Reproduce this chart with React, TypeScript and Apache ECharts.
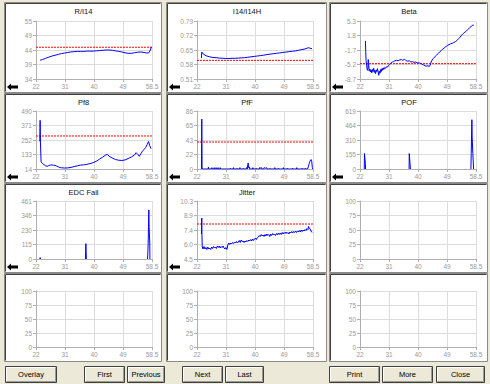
import React, { useEffect, useRef } from "react";
import * as echarts from "echarts";

// ---------- data ----------
const panelTitles = ["R/I14", "I14/I14H", "Beta", "Pf8", "PfF", "POF", "EDC Fail", "Jitter", "", "", "", ""];
const xMin = 22;
const xMax = 58.5;
const xTickLabels = ["22", "31", "40", "49", "58.5"];
const yMins = [34, 0.51, -8.7, 14, 0, 0, 0, 4.5, 0, 0, 0, 0];
const yMaxs = [55, 0.79, 5.3, 490, 86, 619, 461, 10.3, 100, 100, 100, 100];
const yTickLabels = [
  ["34", "39", "44", "49", "55"],
  ["0.51", "0.58", "0.65", "0.72", "0.79"],
  ["-8.7", "-5.2", "-1.7", "1.8", "5.3"],
  ["14", "133", "252", "371", "490"],
  ["0", "22", "43", "65", "86"],
  ["0", "155", "310", "464", "619"],
  ["0", "115", "230", "346", "461"],
  ["4.5", "6.0", "7.4", "8.9", "10.3"],
  ["0", "25", "50", "75", "100"],
  ["0", "25", "50", "75", "100"],
  ["0", "25", "50", "75", "100"],
  ["0", "25", "50", "75", "100"],
];
const thresholds = [45.5, 0.6, -5.0, 285, 40, null, null, 8.0, null, null, null, null];
const buttonLabels = ["Overlay", "First", "Previous", "Next", "Last", "Print", "More", "Close"];

const ri14Data = [
  [23.3, 40.8], [24, 41.0], [25, 41.5], [26, 41.9], [27, 42.3], [28, 42.6], [29, 42.9], [30, 43.2],
  [31, 43.4], [32, 43.6], [33, 43.8], [34, 43.9], [35, 44.0], [36, 44.0], [37, 44.0], [38, 44.1],
  [39, 44.1], [40, 44.1], [41, 44.2], [42, 44.3], [43, 44.4], [44, 44.5], [45, 44.5], [46, 44.4],
  [47, 44.2], [48, 44.0], [49, 43.8], [50, 43.5], [51, 43.3], [52, 43.3], [53, 43.5], [54, 43.7],
  [55, 43.8], [56, 43.6], [56.8, 43.4], [57.5, 43.5], [58, 44.5], [58.3, 45.6],
];
const i14Data = [
  [23.4, 0.611], [23.5, 0.64], [24.0, 0.630], [24.9, 0.622], [26, 0.617], [27, 0.614], [28, 0.613],
  [29, 0.611], [30, 0.610], [31, 0.609], [32, 0.609], [33, 0.610], [34, 0.610], [35, 0.611],
  [36, 0.612], [37, 0.613], [38, 0.615], [39, 0.617], [40, 0.619], [41, 0.621], [42, 0.623],
  [43, 0.625], [44, 0.628], [45, 0.630], [46, 0.632], [47, 0.634], [48, 0.636], [49, 0.638],
  [50, 0.640], [51, 0.642], [52, 0.644], [53, 0.646], [54, 0.649], [55, 0.652], [56, 0.655],
  [57, 0.661], [57.5, 0.659], [58.2, 0.656],
];
const betaData = [
  [23.7, 0.5], [23.8, -2.0], [23.9, -4.2], [24.1, -5.5], [24.3, -6.6], [24.5, -6.2], [24.6, -4.0],
  [24.7, -5.0], [24.9, -6.8], [25.1, -6.3], [25.3, -7.0], [25.5, -6.5], [25.7, -7.2], [25.9, -6.4],
  [26.1, -6.9], [26.3, -6.1], [26.5, -7.1], [26.7, -6.6], [26.9, -7.4], [27.1, -6.5], [27.3, -6.9],
  [27.5, -6.2], [27.7, -7.0], [27.9, -7.8], [28.1, -6.8], [28.3, -7.3], [28.5, -6.4], [28.7, -6.9],
  [28.9, -6.2], [29.1, -6.6], [29.3, -6.0], [29.5, -6.4], [29.8, -5.9], [30.1, -6.1], [30.4, -5.7],
  [30.7, -5.8], [31, -5.4], [31.4, -5.1], [31.8, -4.8], [32.2, -4.6], [32.6, -4.5], [33, -4.3],
  [33.5, -4.2], [34, -4.3], [34.5, -4.1], [35, -4.0], [35.5, -4.2], [36, -3.9], [36.5, -4.3],
  [37, -4.4], [37.5, -4.3], [38, -4.6], [38.5, -4.5], [39, -4.7], [39.5, -4.6], [40, -4.8],
  [40.5, -4.8], [41, -4.9], [41.5, -5.1], [42, -5.3], [42.5, -5.5], [43, -5.6], [43.4, -5.5],
  [43.8, -5.7], [44.1, -5.3], [44.4, -4.6], [44.7, -4.1], [45, -3.8], [45.5, -3.4], [46, -3.0],
  [46.5, -2.6], [47, -2.2], [47.5, -1.9], [48, -1.5], [48.5, -1.2], [49, -0.9], [49.5, -0.6],
  [50, -0.4], [50.5, -0.2], [51, -0.1], [51.5, 0.1], [52, 0.3], [52.5, 0.6], [53, 1.0], [53.5, 1.4],
  [54, 1.9], [54.5, 2.3], [55, 2.6], [55.5, 2.9], [56, 3.3], [56.5, 3.7], [57, 4.0], [57.5, 4.3],
  [57.8, 4.3],
];
const pf8Data = [
  [23.2, 240], [23.3, 413], [23.4, 235], [23.6, 72], [24, 60], [24.5, 50], [25, 40], [25.5, 36],
  [26, 42], [26.5, 46], [27, 48], [27.5, 45], [28, 44], [28.5, 38], [29, 32], [29.5, 26], [30, 24],
  [31, 22], [32, 23], [33, 27], [34, 34], [35, 40], [36, 46], [37, 48], [38, 52], [39, 58], [40, 66],
  [41, 78], [42, 95], [43, 112], [44, 130], [44.5, 134], [45, 118], [46, 104], [47, 92], [48, 86],
  [49, 84], [50, 88], [51, 100], [52, 112], [53, 130], [53.5, 148], [54, 135], [54.5, 118],
  [55, 140], [55.5, 160], [56, 175], [56.5, 190], [57, 215], [57.4, 240], [57.8, 205], [58.2, 181],
];
const pffData = [
  [23.4, 0], [23.5, 74], [23.55, 38], [23.6, 0], [25.5, 0], [25.6, 3], [25.7, 0], [26.6, 0], [26.7, 2],
  [26.8, 0], [27.3, 0], [27.4, 2], [27.5, 0], [27.9, 0], [28.0, 2], [28.1, 0], [28.5, 0], [28.6, 2],
  [28.7, 0], [29.2, 0], [29.3, 2], [29.4, 0], [32.4, 0], [32.5, 1], [32.6, 0], [33.4, 0], [33.5, 2],
  [33.6, 0], [34.5, 0], [34.6, 1], [34.7, 0], [35.4, 0], [35.5, 2], [35.6, 0], [36.5, 0], [36.6, 1],
  [36.7, 0], [37.5, 0], [37.6, 2], [37.8, 0], [38.0, 0], [38.1, 9], [38.2, 2], [38.5, 3], [38.6, 0],
  [39.5, 0], [39.6, 2], [39.7, 0], [40.5, 0], [40.6, 1], [40.7, 0], [41.6, 0], [41.7, 2], [41.8, 1],
  [42.3, 2], [42.4, 0], [43.0, 0], [43.1, 2], [43.5, 1], [43.9, 2], [44.0, 0], [44.8, 0], [44.9, 1],
  [45.0, 0], [46.4, 0], [46.5, 2], [46.6, 0], [47.5, 0], [47.6, 1], [47.7, 0], [49.1, 0], [49.2, 2],
  [49.3, 0], [50.3, 0], [50.4, 1], [50.5, 0], [52.0, 0], [52.1, 1], [52.2, 0], [53.3, 0], [53.4, 2],
  [53.5, 0], [55.0, 0], [55.1, 1], [55.2, 0], [56.0, 0], [56.1, 1], [56.2, 0], [56.8, 0], [57.0, 3],
  [57.3, 8], [57.6, 12], [57.9, 14], [58.1, 11], [58.3, 2], [58.4, 0],
];
const pofData = [
  [23.35, 0], [23.4, 165], [23.5, 165], [23.6, 165], [23.7, 60], [23.75, 0], [23.8, null],
  [37.45, 0], [37.5, 165], [37.6, 165], [37.7, 80], [37.8, 80], [37.85, 0], [37.9, null],
  [56.9, 0], [57.0, 165], [57.1, 165], [57.2, 526], [57.3, 340], [57.4, 340], [57.5, 165], [57.6, 165], [57.7, 165], [57.75, 0],
];
const edcData = [
  [23.2, 0], [23.3, 11], [23.45, 11], [23.5, 0], [23.6, null],
  [37.55, 0], [37.6, 54], [37.7, 122], [37.8, 122], [37.85, 0], [37.9, null],
  [57.1, 0], [57.2, 54], [57.3, 127], [57.4, 127], [57.5, 390], [57.6, 250], [57.7, 250], [57.8, 127], [57.85, 0],
];
const jitterData = [
  [23.4, 7.0], [23.5, 8.6], [23.55, 7.0], [23.65, 5.7], [23.9, 5.5], [24.2, 5.75], [24.5, 5.5],
  [24.8, 5.65], [25.1, 5.45], [25.4, 5.7], [25.7, 5.5], [26.0, 5.6], [26.3, 5.45], [26.6, 5.7],
  [26.9, 5.55], [27.2, 5.75], [27.5, 5.6], [27.8, 5.7], [28.1, 5.55], [28.4, 5.8], [28.7, 5.65],
  [29.0, 5.8], [29.3, 5.6], [29.6, 5.75], [29.9, 5.65], [30.2, 5.8], [30.5, 5.6], [30.8, 5.5],
  [31.1, 5.65], [31.4, 5.45], [31.7, 5.9], [32.0, 6.1], [32.3, 5.95], [32.6, 6.1], [32.9, 6.0],
  [33.2, 6.15], [33.5, 6.05], [33.8, 6.2], [34.1, 6.1], [34.4, 6.25], [34.7, 6.1], [35.0, 6.2],
  [35.3, 6.35], [35.6, 6.15], [35.9, 6.4], [36.2, 6.25], [36.5, 6.3], [36.8, 6.15], [37.1, 6.3],
  [37.4, 6.2], [37.7, 6.35], [38.0, 6.25], [38.3, 6.4], [38.6, 6.3], [38.9, 6.45], [39.2, 6.3],
  [39.5, 6.5], [39.8, 6.35], [40.1, 6.5], [40.4, 6.6], [40.7, 6.45], [41.0, 6.65], [41.3, 6.7],
  [41.6, 6.85], [41.9, 6.75], [42.2, 6.95], [42.5, 6.8], [42.8, 6.9], [43.1, 6.75], [43.4, 6.95],
  [43.7, 6.8], [44.0, 7.0], [44.3, 6.85], [44.6, 6.95], [44.9, 6.75], [45.2, 7.0], [45.5, 6.85],
  [45.8, 7.05], [46.1, 6.9], [46.4, 7.0], [46.7, 6.85], [47.0, 7.05], [47.3, 6.9], [47.6, 7.1],
  [47.9, 6.95], [48.2, 7.1], [48.5, 6.95], [48.8, 7.15], [49.1, 7.0], [49.4, 7.15], [49.7, 7.05],
  [50.0, 7.2], [50.3, 7.05], [50.6, 7.15], [50.9, 7.0], [51.2, 7.2], [51.5, 7.1], [51.8, 7.25],
  [52.1, 7.1], [52.4, 7.25], [52.7, 7.15], [53.0, 7.3], [53.3, 7.15], [53.6, 7.3], [53.9, 7.2],
  [54.2, 7.35], [54.5, 7.2], [54.8, 7.4], [55.1, 7.25], [55.4, 7.4], [55.7, 7.3], [56.0, 7.45],
  [56.3, 7.35], [56.6, 7.55], [56.9, 7.45], [57.1, 7.75], [57.3, 7.6], [57.6, 7.5], [57.9, 7.3],
  [58.2, 7.15],
];
const seriesData: any[] = [ri14Data, i14Data, betaData, pf8Data, pffData, pofData, edcData, jitterData, [], [], [], []];

// ---------- layout ----------
const PANEL_X = [[4, 161], [166, 326], [329, 487]];
const PANEL_Y = [[2, 92], [93, 182], [183, 272], [273, 361]];
const PLOT_LEFT = [36, 197, 360];
const PLOT_TOP = [21, 111, 201, 291];
const PLOT_W = 116;
const PLOT_H = [58, 58, 58, 56];
const BTN_X = [[5, 56], [84, 124], [127, 164], [182, 222], [225, 263], [329, 379], [382, 432], [436, 484]];
const BTN_Y = [366, 382];
const FONT = '"Liberation Sans", Arial, sans-serif';

export default function App() {
  const ref = useRef<HTMLDivElement>(null);
  useEffect(() => {
    document.body.style.margin = "0";
    const chart = echarts.init(ref.current!, null, { renderer: "svg" });
    const grids: any[] = [];
    const xAxes: any[] = [];
    const yAxes: any[] = [];
    const series: any[] = [];
    const elements: any[] = [];
    const xInterval = (xMax - xMin) / 4;

    for (let i = 0; i < 12; i++) {
      const r = Math.floor(i / 3);
      const c = i % 3;
      grids.push({ left: PLOT_LEFT[c], top: PLOT_TOP[r], width: PLOT_W, height: PLOT_H[r] });
      const axisCommon = {
        axisLine: { show: true, onZero: false, lineStyle: { color: "#b0b0b0", width: 1 } },
        axisTick: { show: true, length: 3, lineStyle: { color: "#b0b0b0" } },
        splitLine: { show: true, lineStyle: { color: "#dcdcdc", width: 1 } },
      };
      xAxes.push({
        gridIndex: i,
        type: "value",
        min: xMin,
        max: xMax,
        interval: xInterval,
        ...axisCommon,
        axisLabel: {
          fontSize: 6.5,
          fontFamily: FONT,
          color: "#9a9a9a",
          margin: 4,
          showMinLabel: true,
          showMaxLabel: true,
          hideOverlap: false,
          formatter: (v: number) => xTickLabels[Math.round((v - xMin) / xInterval)] ?? "",
        },
      });
      const yMin = yMins[i];
      const yMax = yMaxs[i];
      const yInt = (yMax - yMin) / 4;
      const labels = yTickLabels[i];
      yAxes.push({
        gridIndex: i,
        type: "value",
        min: yMin,
        max: yMax,
        interval: yInt,
        ...axisCommon,
        axisLabel: {
          fontSize: 6.5,
          fontFamily: FONT,
          color: "#9a9a9a",
          margin: 4,
          showMinLabel: true,
          showMaxLabel: true,
          formatter: (v: number) => labels[Math.round((v - yMin) / yInt)] ?? "",
        },
      });
      const d = seriesData[i];
      const th = thresholds[i];
      if (th !== null) {
        series.push({
          type: "line",
          name: "limit" + i,
          xAxisIndex: i,
          yAxisIndex: i,
          showSymbol: false,
          symbol: "none",
          silent: true,
          z: 1,
          color: "#ff0000",
          lineStyle: { color: "#ff0000", type: [2, 1], width: 1 },
          data: [[xMin, th], [xMax, th]],
        });
      }
      if (d.length) {
        series.push({
          type: "line",
          name: "series" + i,
          xAxisIndex: i,
          yAxisIndex: i,
          showSymbol: false,
          symbol: "none",
          connectNulls: false,
          silent: true,
          z: 2,
          color: "#0000ff",
          lineStyle: { color: "#0000ff", width: 1 },
          data: d.map((p: any[]) => [p[0], p[1] === null ? "-" : p[1]]),
        });
      }

      // panel box
      const [x0, x1] = PANEL_X[c];
      const [y0, y1] = PANEL_Y[r];
      elements.push({
        type: "rect",
        z: -100,
        shape: { x: x0 + 0.5, y: y0 + 0.5, width: x1 - x0, height: y1 - y0 },
        style: { fill: "#ffffff", stroke: "#8a8a8a", lineWidth: 1 },
      });
      elements.push({
        type: "polyline",
        z: -99,
        shape: { points: [[x0 + 1.5, y1 - 0.5], [x0 + 1.5, y0 + 1.5], [x1 - 0.5, y0 + 1.5]] },
        style: { stroke: "#404040", lineWidth: 1, fill: null },
      });
      if (panelTitles[i]) {
        elements.push({
          type: "text",
          z: 10,
          x: (x0 + x1) / 2 + 1,
          y: y0 + 9,
          style: {
            text: panelTitles[i],
            fontSize: 7.5,
            fontFamily: FONT,
            fill: "#111111",
            align: "center",
            verticalAlign: "middle",
          },
        });
        // back arrow icon
        const ax = x0 + 2;
        const ay = y1 - 9;
        elements.push({
          type: "polygon",
          z: 10,
          shape: {
            points: [[ax + 1, ay + 4], [ax + 5, ay + 0.5], [ax + 5, ay + 2.5], [ax + 12, ay + 2.5], [ax + 12, ay + 5.5], [ax + 5, ay + 5.5], [ax + 5, ay + 7.5]],
          },
          style: { fill: "#000000" },
        });
      }
    }

    // buttons
    buttonLabels.forEach((lab, k) => {
      const [bx0, bx1] = BTN_X[k];
      const [by0, by1] = BTN_Y;
      elements.push({
        type: "rect",
        z: 5,
        shape: { x: bx0 + 0.5, y: by0 + 0.5, width: bx1 - bx0, height: by1 - by0 },
        style: { fill: "#ece9d8", stroke: "#404040", lineWidth: 1 },
      });
      elements.push({
        type: "polyline",
        z: 6,
        shape: { points: [[bx0 + 1.5, by1 - 1], [bx0 + 1.5, by0 + 1.5], [bx1 - 1, by0 + 1.5]] },
        style: { stroke: "#ffffff", lineWidth: 1, fill: null },
      });
      elements.push({
        type: "polyline",
        z: 6,
        shape: { points: [[bx0 + 1.5, by1 - 0.5], [bx1 - 0.5, by1 - 0.5], [bx1 - 0.5, by0 + 1.5]] },
        style: { stroke: "#9a9a9a", lineWidth: 1, fill: null },
      });
      elements.push({
        type: "text",
        z: 7,
        x: (bx0 + bx1) / 2 + 0.5,
        y: (by0 + by1) / 2 + 0.5,
        style: {
          text: lab,
          fontSize: 7.5,
          fontFamily: FONT,
          fill: "#000000",
          align: "center",
          verticalAlign: "middle",
        },
      });
    });

    chart.setOption({
      animation: false,
      backgroundColor: "#ece9d8",
      grid: grids,
      xAxis: xAxes,
      yAxis: yAxes,
      series,
      graphic: { elements },
    });
    return () => chart.dispose();
  }, []);
  return <div ref={ref} style={{ width: 490, height: 384 }} />;
}
